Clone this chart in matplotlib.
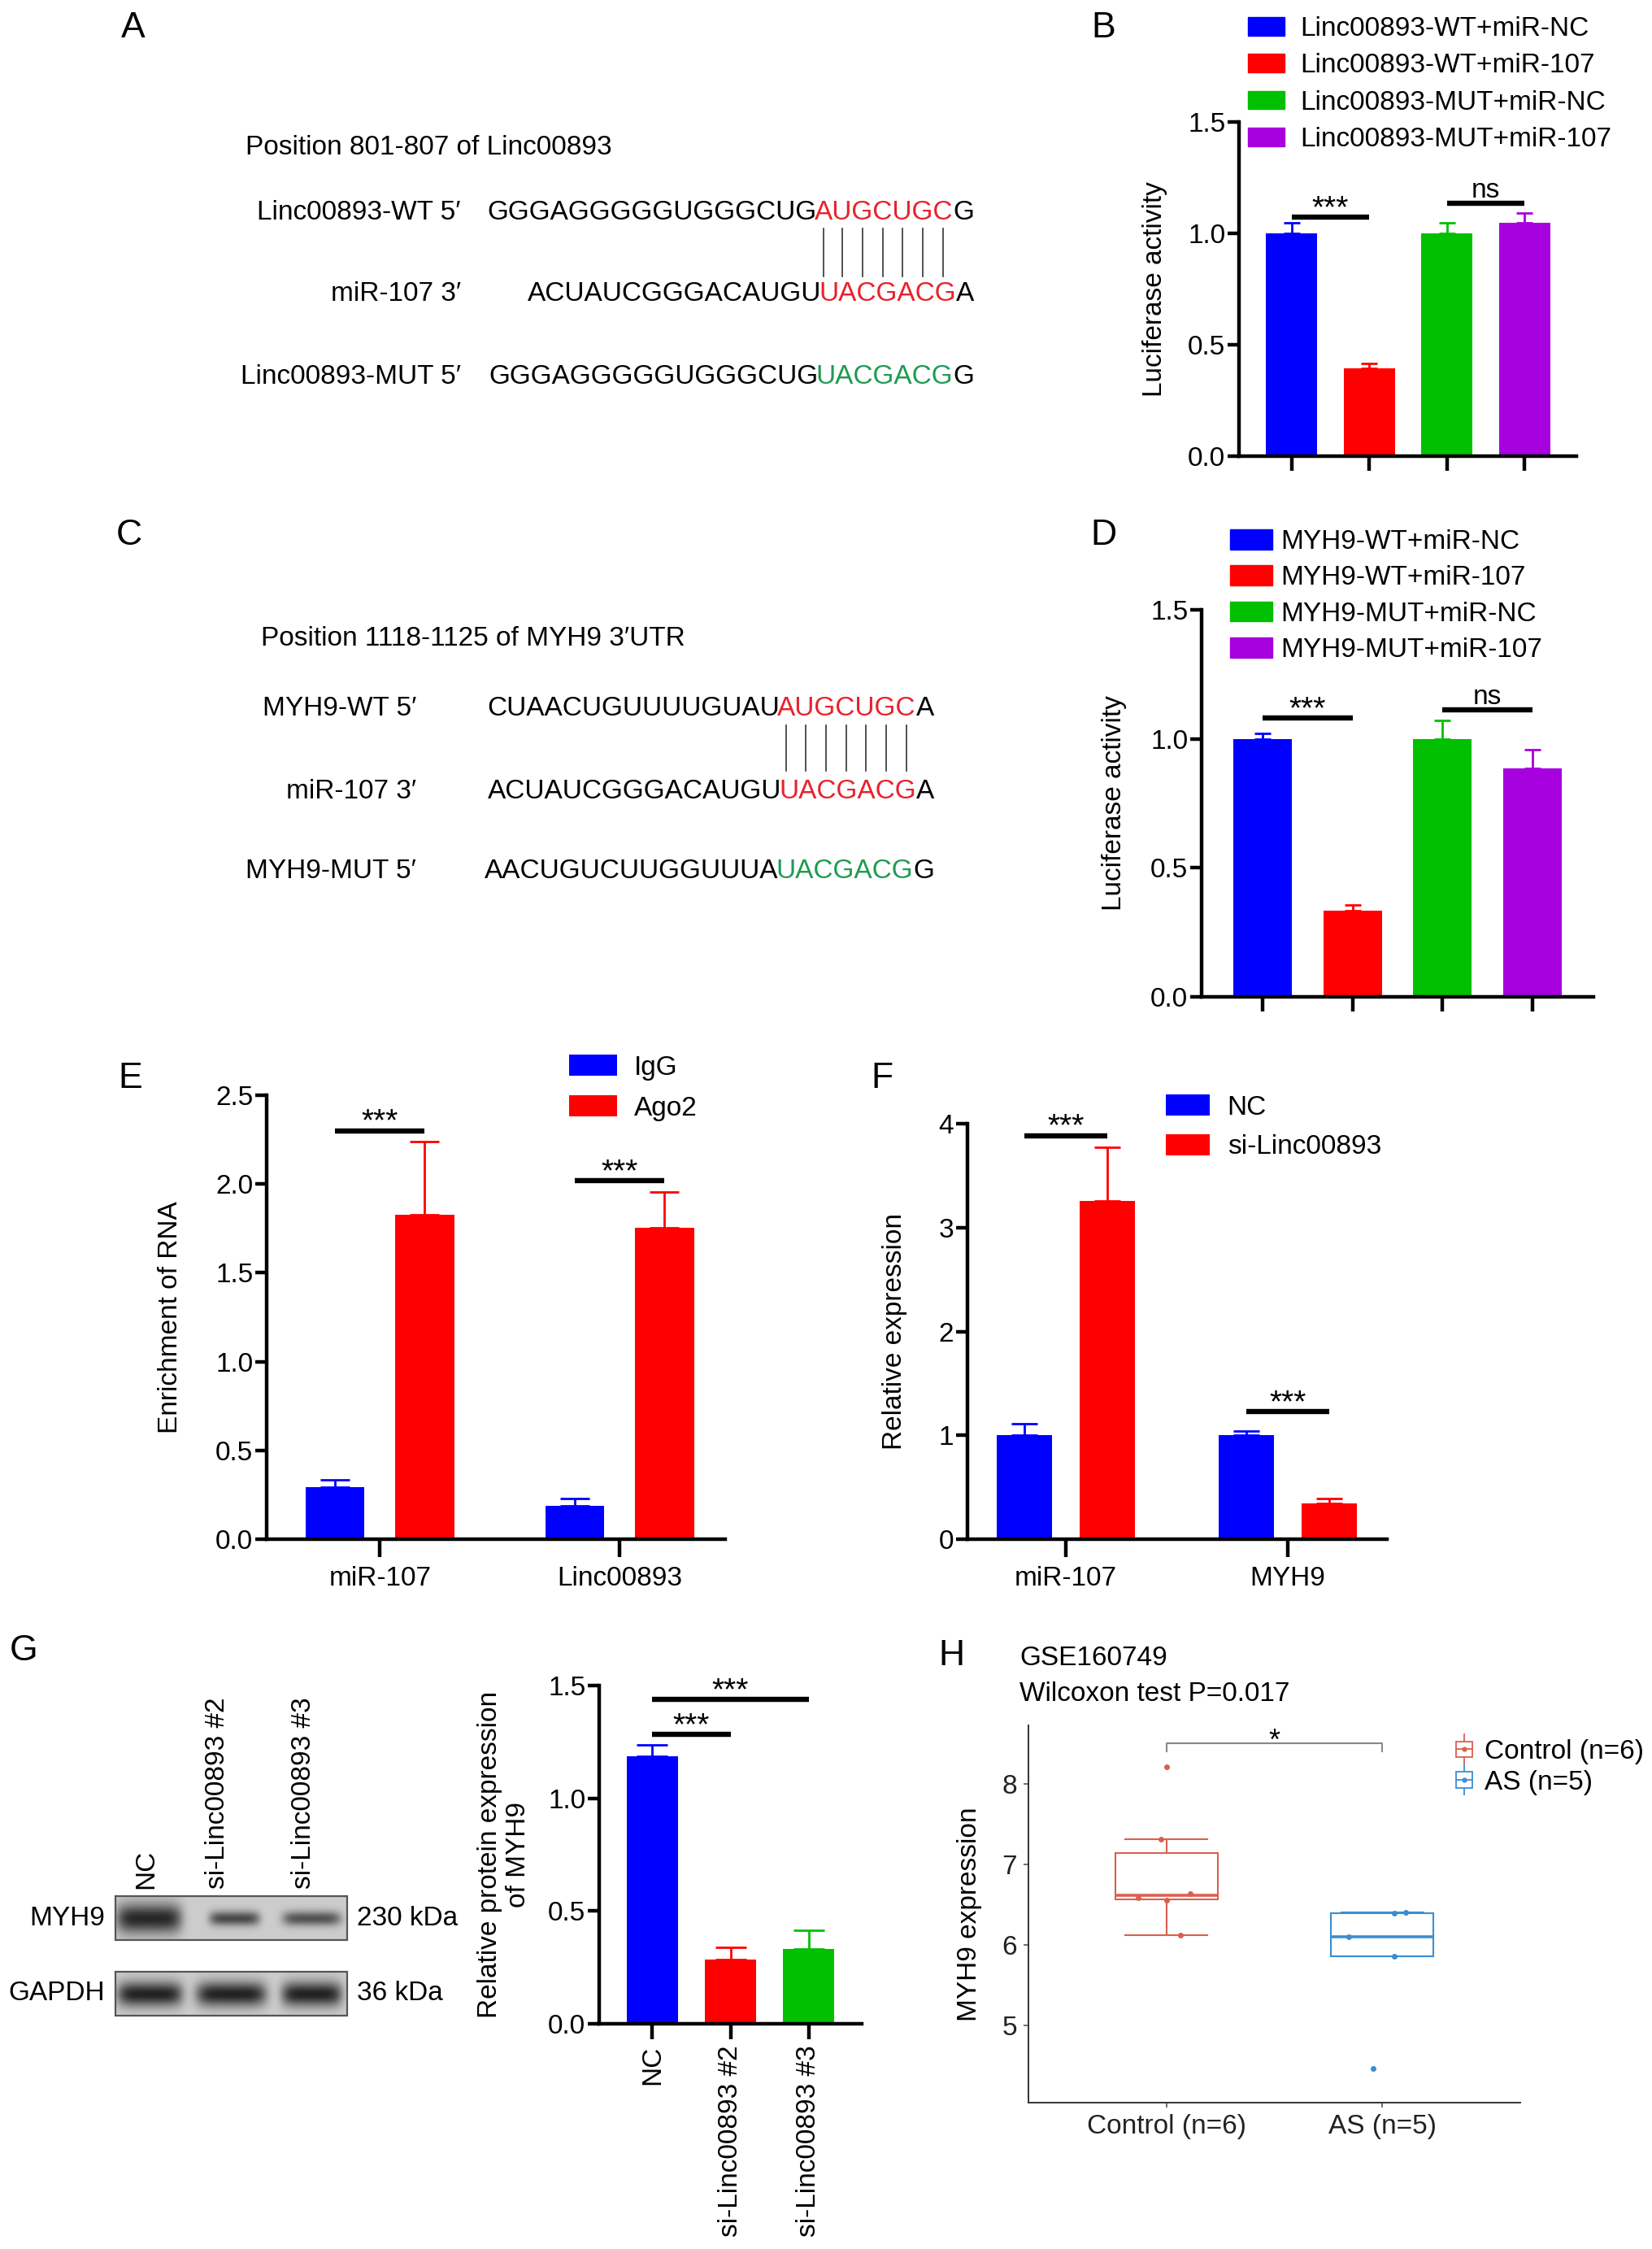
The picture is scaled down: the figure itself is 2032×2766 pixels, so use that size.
import numpy as np
import matplotlib
matplotlib.use("Agg")
from matplotlib import pyplot as plt
from matplotlib.font_manager import FontProperties
from matplotlib.legend_handler import HandlerBase
from matplotlib.lines import Line2D
from matplotlib.patches import Patch, Rectangle
from matplotlib.ticker import FormatStrFormatter

FONT = ['Liberation Sans', 'DejaVu Sans']
plt.rcParams['font.family'] = FONT
plt.rcParams['font.size'] = 24

W, H = 2032, 2766
FS = 24

# ---------------- data ----------------
a_title = "Position 801-807 of Linc00893"
a_labels = ["Linc00893-WT 5\u2032", "miR-107 3\u2032", "Linc00893-MUT 5\u2032"]
a_seqs = [("GGGAGGGGGUGGGCUG", "AUGCUGC", "G"),
          ("ACUAUCGGGACAUGU", "UACGACG", "A"),
          ("GGGAGGGGGUGGGCUG", "UACGACG", "G")]

c_title = "Position 1118-1125 of MYH9 3\u2032UTR"
c_labels = ["MYH9-WT 5\u2032", "miR-107 3\u2032", "MYH9-MUT 5\u2032"]
c_seqs = [("CUAACUGUUUUGUAU", "AUGCUGC", "A"),
          ("ACUAUCGGGACAUGU", "UACGACG", "A"),
          ("AACUGUCUUGGUUUA", "UACGACG", "G")]

b_groups = ["Linc00893-WT+miR-NC", "Linc00893-WT+miR-107",
            "Linc00893-MUT+miR-NC", "Linc00893-MUT+miR-107"]
b_mean = [1.00, 0.393, 1.00, 1.047]
b_err = [0.047, 0.024, 0.048, 0.043]
b_sig = [(0, 1, 1.073, "***"), (2, 3, 1.134, "ns")]

d_groups = ["MYH9-WT+miR-NC", "MYH9-WT+miR-107", "MYH9-MUT+miR-NC", "MYH9-MUT+miR-107"]
d_mean = [1.00, 0.333, 1.00, 0.887]
d_err = [0.02, 0.022, 0.072, 0.072]
d_sig = [(0, 1, 1.081, "***"), (2, 3, 1.111, "ns")]

e_groups = ["miR-107", "Linc00893"]
e_igg = [0.294, 0.189]
e_igg_err = [0.042, 0.040]
e_ago2 = [1.826, 1.754]
e_ago2_err = [0.411, 0.200]
e_sig = [2.30, 2.02]

f_groups = ["miR-107", "MYH9"]
f_nc = [1.00, 1.00]
f_nc_err = [0.11, 0.045]
f_si = [3.256, 0.347]
f_si_err = [0.52, 0.047]
f_sig = [3.885, 1.23]

g_groups = ["NC", "si-Linc00893 #2", "si-Linc00893 #3"]
g_mean = [1.187, 0.284, 0.332]
g_err = [0.051, 0.055, 0.081]
g_sig = [(0, 1, 1.283, "***"), (0, 2, 1.439, "***")]
myh9_band = [0.95, 0.75, 0.70]
gapdh_band = [0.98, 0.98, 0.98]

h_groups = ["Control (n=6)", "AS (n=5)"]
h_control = [8.21, 7.31, 6.64, 6.59, 6.56, 6.12]
h_control_jit = [0.0, -0.026, 0.11, -0.132, 0.0, 0.066]
h_as = [6.40, 6.41, 6.10, 5.86, 4.46]
h_as_jit = [0.055, 0.11, -0.154, 0.055, -0.044]

BLUE, RED, GREEN, PURPLE = "#0000FF", "#FF0000", "#00C000", "#A600DE"
SEQ_RED, SEQ_GREEN = "#E8222C", "#1E9B52"
H_RED, H_BLUE = "#D9604F", "#3A8ED3"
SPW = 3.2

fig = plt.figure(figsize=(W / 100, H / 100), dpi=100)
ov = fig.add_axes([0, 0, 1, 1])
ov.axis('off')
renderer = fig.canvas.get_renderer()
prop = FontProperties(family=FONT, size=FS)


def px_axes(l, t, r, b):
    ax = fig.add_axes([l / W, 1 - b / H, (r - l) / W, (b - t) / H])
    ax.set_facecolor('none')
    return ax


def width_of(s):
    if not s:
        return 0.0
    return renderer.get_text_width_height_descent(s, prop, ismath=False)[0]


def draw_seq(x_right, y, parts, site_color):
    full = "".join(parts)
    x0 = x_right - width_of(full)
    pos = 0
    centers = []
    for k, chunk in enumerate(parts):
        color = site_color if k == 1 else 'black'
        shift = -3 if pos else 0
        xs = x0 + width_of(full[:pos]) + shift
        ov.text(xs, y, chunk, color=color, fontproperties=prop, ha='left', va='center')
        if k == 1:
            for j in range(len(chunk)):
                a = width_of(full[:pos + j])
                b = width_of(full[:pos + j + 1])
                centers.append(x0 + (a + b) / 2 + shift)
        pos += len(chunk)
    return centers


def seq_panel(title, tpos, labels, seqs, label_right, seq_right, rows_y, pair_y):
    ov.text(tpos[0], tpos[1], title, fontsize=FS, ha='left', va='center')
    site_colors = [SEQ_RED, SEQ_RED, SEQ_GREEN]
    top_centers = None
    for lab, seq, y, sc in zip(labels, seqs, rows_y, site_colors):
        ov.text(label_right, y, lab, fontsize=FS, ha='right', va='center')
        cen = draw_seq(seq_right, y, seq, sc)
        if top_centers is None:
            top_centers = cen
    for xc in top_centers:
        ov.plot([xc, xc], pair_y, color='#333333', lw=1.2)


def gp_style(ax, ymax, yticks, fmt, xlim, xlen=13, xpad=5):
    for s in ('top', 'right'):
        ax.spines[s].set_visible(False)
    for s in ('left', 'bottom'):
        ax.spines[s].set_linewidth(SPW)
    ax.set_xlim(*xlim)
    ax.set_ylim(0, ymax)
    ax.set_yticks(yticks)
    ax.yaxis.set_major_formatter(FormatStrFormatter(fmt))
    ax.tick_params(axis='y', length=10, width=SPW, pad=2, labelsize=FS)
    ax.tick_params(axis='x', length=xlen, width=SPW, pad=xpad, labelsize=FS)


def bars(ax, x, h, err, colors, width, cap, label=None):
    cont = ax.bar(x, h, width, color=colors, linewidth=0, zorder=2, label=label)
    if isinstance(colors, str):
        colors = [colors] * len(x)
    for xi, hi, ei, c in zip(x, h, err, colors):
        ax.errorbar(xi, hi, yerr=[[0], [ei]], color=c, lw=2.0, capsize=cap,
                    capthick=2.0, zorder=1)
    return cont


def sig_bar(ax, x1, x2, y, label):
    ax.plot([x1, x2], [y, y], color='black', lw=4.6, solid_capstyle='butt',
            clip_on=False, zorder=3)
    xm = (x1 + x2) / 2
    if label == 'ns':
        ax.annotate(label, (xm, y), xytext=(0, 5), textcoords='offset points',
                    ha='center', va='baseline', fontsize=FS)
    else:
        ax.annotate(label, (xm, y), xytext=(0, 0), textcoords='offset points',
                    ha='center', va='baseline', fontsize=28)


def ylabel_at(ax, text, cx, l, r, **kw):
    ax.set_ylabel(text, fontsize=FS, va='center', **kw)
    ax.yaxis.set_label_coords((cx - l) / (r - l), 0.5)


def legend_at(ax, handles, labels, x, y_top, hl, hh, pad, spacing, fs=FS, **kw):
    return ax.legend(handles, labels, loc='upper left',
                     bbox_to_anchor=(x / W, 1 - y_top / H), bbox_transform=fig.transFigure,
                     frameon=False, borderpad=0, borderaxespad=0, fontsize=fs,
                     handlelength=hl, handleheight=hh, handletextpad=pad,
                     labelspacing=spacing, **kw)


# ---------------- panel letters ----------------
for letter, (lx, ly) in zip("ABCDEFGH", [(164, 34), (1357, 34), (159, 658), (1357, 659),
                                         (160, 1327), (1085, 1327), (29, 2031), (1170, 2036)]):
    ov.text(lx, ly, letter, fontsize=32, ha='center', va='center')

# ---------------- A / C ----------------
seq_panel(a_title, (302, 181), a_labels, a_seqs, 567, 1201, [261, 362, 463], [281, 340])
seq_panel(c_title, (321, 786), c_labels, c_seqs, 512, 1152, [872, 973, 1072], [892, 948])

# ---------------- B ----------------
four_colors = [BLUE, RED, GREEN, PURPLE]
l, t, r, b = 1524, 150, 1939, 561
axB = px_axes(l, t, r, b)
xb = np.arange(len(b_groups))
bars(axB, xb, b_mean, b_err, four_colors, 0.66, 7)
gp_style(axB, 1.5, [0, 0.5, 1.0, 1.5], '%.1f', (-0.68, 3.67))
axB.set_xticks(xb)
axB.set_xticklabels([])
for i, j, y, lab in b_sig:
    sig_bar(axB, xb[i], xb[j], y, lab)
ylabel_at(axB, "Luciferase activity", 1421, l, r)
legend_at(axB, [Patch(color=c) for c in four_colors], b_groups, 1535, 20, 1.34, 0.67, 0.6, 0.43)

# ---------------- D ----------------
l, t, r, b = 1478, 750, 1960, 1226
axD = px_axes(l, t, r, b)
xd = np.arange(len(d_groups))
bars(axD, xd, d_mean, d_err, four_colors, 0.65, 7.5)
gp_style(axD, 1.5, [0, 0.5, 1.0, 1.5], '%.1f', (-0.68, 3.68))
axD.set_xticks(xd)
axD.set_xticklabels([])
for i, j, y, lab in d_sig:
    sig_bar(axD, xd[i], xd[j], y, lab)
ylabel_at(axD, "Luciferase activity", 1370, l, r)
legend_at(axD, [Patch(color=c) for c in four_colors], d_groups, 1513, 651, 1.56, 0.75, 0.3, 0.40)

# ---------------- E ----------------
l, t, r, b = 328, 1347, 892, 1893
axE = px_axes(l, t, r, b)
xe = np.arange(len(e_groups))
off = 0.187
h1 = bars(axE, xe - off, e_igg, e_igg_err, BLUE, 0.245, 13, label="IgG")
h2 = bars(axE, xe + off, e_ago2, e_ago2_err, RED, 0.245, 13, label="Ago2")
gp_style(axE, 2.5, [0, 0.5, 1.0, 1.5, 2.0, 2.5], '%.1f', (-0.472, 1.44), xlen=16, xpad=8)
axE.set_xticks(xe)
axE.set_xticklabels(e_groups)
for xi, y in zip(xe, e_sig):
    sig_bar(axE, xi - off, xi + off, y, "***")
ylabel_at(axE, "Enrichment of RNA", 209, l, r)
legend_at(axE, [h1, h2], ["IgG", "Ago2"], 700, 1297, 1.77, 0.83, 0.63, 0.55)

# ---------------- F ----------------
l, t, r, b = 1190, 1382, 1706, 1893
axF = px_axes(l, t, r, b)
xf = np.arange(len(f_groups))
h1 = bars(axF, xf - off, f_nc, f_nc_err, BLUE, 0.25, 11.5, label="NC")
h2 = bars(axF, xf + off, f_si, f_si_err, RED, 0.25, 11.5, label="si-Linc00893")
gp_style(axF, 4, [0, 1, 2, 3, 4], '%d', (-0.443, 1.447), xlen=16, xpad=8)
axF.set_xticks(xf)
axF.set_xticklabels(f_groups)
for xi, y in zip(xf, f_sig):
    sig_bar(axF, xi - off, xi + off, y, "***")
ylabel_at(axF, "Relative expression", 1101, l, r)
legend_at(axF, [h1, h2], ["NC", "si-Linc00893"], 1434, 1346, 1.62, 0.83, 0.65, 0.51)


# ---------------- G blot ----------------
def blot_strip(y0, y1, lanes, darkness):
    xs = np.arange(142, 427)
    ys = np.arange(y0, y1)
    X, Y = np.meshgrid(xs, ys)
    bg = 0.80
    img = np.full(X.shape, bg)
    yc = (y0 + y1) / 2
    for (cx, hw, hh), d in zip(lanes, darkness):
        shape = np.exp(-((X - cx) / hw) ** 6) * np.exp(-((Y - yc) / hh) ** 2)
        img -= (bg - 0.12) * d * shape
    ov.imshow(img, cmap='gray', vmin=0, vmax=1, extent=(142, 427, y1, y0),
              aspect='auto', interpolation='bilinear', zorder=1)
    ov.add_patch(Rectangle((142, y0), 285, y1 - y0, fill=False, ec='#555555', lw=1.6, zorder=2))


blot_strip(2332, 2386, [(183, 40, 18), (288, 31, 9), (383, 36, 9)], myh9_band)
blot_strip(2425, 2479, [(184, 40, 15), (284, 43, 15), (383, 37, 15)], gapdh_band)
ov.set_xlim(0, W)
ov.set_ylim(H, 0)
for lab, x in zip(g_groups, [180, 268, 374]):
    ov.text(x, 2323, lab, fontsize=FS, rotation=90, ha='center', va='bottom')
ov.text(129, 2359, "MYH9", fontsize=FS, ha='right', va='center')
ov.text(129, 2452, "GAPDH", fontsize=FS, ha='right', va='center')
ov.text(439, 2359, "230 kDa", fontsize=FS, ha='left', va='center')
ov.text(439, 2452, "36 kDa", fontsize=FS, ha='left', va='center')

# ---------------- G bars ----------------
l, t, r, b = 737, 2073, 1060, 2489
axG = px_axes(l, t, r, b)
xg = np.arange(len(g_groups))
bars(axG, xg, g_mean, g_err, [BLUE, RED, GREEN], 0.657, 14)
gp_style(axG, 1.5, [0, 0.5, 1.0, 1.5], '%.1f', (-0.68, 2.68), xlen=14)
axG.set_xticks(xg)
axG.set_xticklabels(g_groups, rotation=90, ha='center', va='top')
for i, j, y, lab in g_sig:
    sig_bar(axG, xg[i], xg[j], y, lab)
ylabel_at(axG, "Relative protein expression\nof MYH9", 620, l, r, linespacing=1.15)

# ---------------- H ----------------
ov.text(1254, 2039, "GSE160749", fontsize=FS, ha='left', va='center')
ov.text(1254, 2083, "Wilcoxon test P=0.017", fontsize=FS, ha='left', va='center')

l, t, r, b = 1265, 2122, 1870, 2586
axH = px_axes(l, t, r, b)
bp = axH.boxplot([h_control, h_as], positions=[1, 2], widths=0.475, whis=1.5,
                 showfliers=False, capwidths=0.38, patch_artist=True)
for k, c in enumerate([H_RED, H_BLUE]):
    bp['boxes'][k].set(facecolor='white', edgecolor=c, linewidth=1.5)
    bp['medians'][k].set(color=c, linewidth=2.6)
    for line in bp['whiskers'][2 * k:2 * k + 2] + bp['caps'][2 * k:2 * k + 2]:
        line.set(color=c, linewidth=1.5)
axH.scatter(1 + np.array(h_control_jit), h_control, s=16, color=H_RED, zorder=4)
axH.scatter(2 + np.array(h_as_jit), h_as, s=16, color=H_BLUE, zorder=4)
axH.plot([1, 1, 2, 2], [8.41, 8.51, 8.51, 8.41], color='#888888', lw=1.5)
axH.text(1.5, 8.52, "*", fontsize=26, ha='center', va='center')
axH.set_xlim(0.36, 2.64)
axH.set_ylim(4.04, 8.73)
axH.set_yticks([5, 6, 7, 8])
axH.set_xticks([1, 2])
axH.set_xticklabels(h_groups)
for s in ('top', 'right'):
    axH.spines[s].set_visible(False)
for s in ('left', 'bottom'):
    axH.spines[s].set_linewidth(1.4)
    axH.spines[s].set_color('#333333')
axH.tick_params(length=4, width=1.2, color='#555555', labelsize=FS, labelcolor='#222222', pad=6)
ylabel_at(axH, "MYH9 expression", 1193, l, r)


class BoxKey(HandlerBase):
    def create_artists(self, legend, orig_handle, xdescent, ydescent, width, height, fontsize, trans):
        c = orig_handle.get_color()
        cx = -xdescent + width / 2
        cy = -ydescent + height / 2
        bw, bh = width * 0.8, height * 0.8
        whisker = Line2D([cx, cx], [cy - height * 0.75, cy + height * 0.75], color=c, lw=1.3, transform=trans)
        box = Rectangle((cx - bw / 2, cy - bh / 2), bw, bh, facecolor='white', edgecolor=c, lw=1.3, transform=trans)
        median = Line2D([cx - bw / 2, cx + bw / 2], [cy, cy], color=c, lw=1.3, transform=trans)
        dot = Line2D([cx], [cy], marker='o', ms=3.5, color=c, transform=trans)
        return [whisker, box, median, dot]


proxies = [Line2D([], [], color=H_RED), Line2D([], [], color=H_BLUE)]
legend_at(axH, proxies, h_groups, 1788, 2139, 0.75, 0.75, 0.38, 0.2,
          handler_map={Line2D: BoxKey()})

fig.savefig("out.png", dpi=100)
